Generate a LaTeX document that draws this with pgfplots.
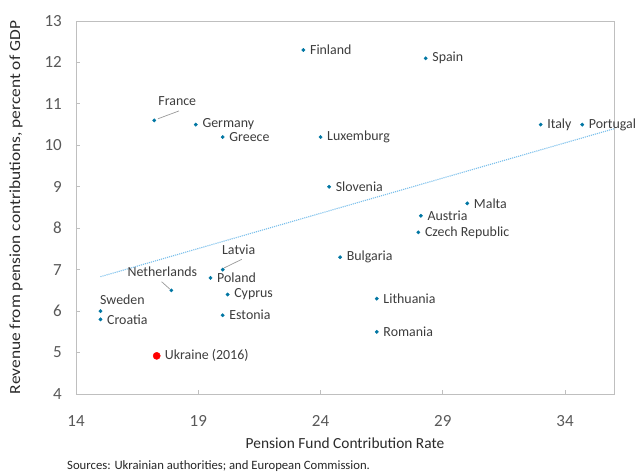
\documentclass[border=0pt]{standalone}
\usepackage{pgfplots}
\pgfplotsset{compat=1.18}
\usepackage{fontspec}
\setmainfont{Carlito}
\definecolor{dotblue}{RGB}{0,118,163}
\definecolor{lblgray}{RGB}{60,60,60}
\definecolor{tickgray}{RGB}{89,89,89}
\definecolor{framegray}{RGB}{191,191,191}
\definecolor{trendblue}{RGB}{120,190,235}
\begin{document}
\begin{tikzpicture}
\path[use as bounding box] (-76pt,-79pt) rectangle (561pt,394pt);
\begin{axis}[
  scale only axis,
  width=538pt, height=373pt,
  xmin=14, xmax=36, ymin=4, ymax=13,
  xtick={14,19,24,29,34}, ytick={4,5,...,13},
  /pgf/number format/assume math mode=true,
  axis line style={framegray, line width=0.9pt},
  tick style={framegray, line width=0.9pt},
  tick align=inside, major tick length=4pt,
  xtick pos=bottom, ytick pos=left,
  ticklabel style={font=\fontsize{17}{19}\selectfont, text=tickgray},
  xticklabel style={anchor=center, yshift=-27pt, inner sep=0pt},
  yticklabel style={anchor=east, xshift=-14pt, inner sep=0pt},
  xlabel={Pension Fund Contribution Rate},
  ylabel={\scalebox{1.13}[1]{Revenue from pension contributions, percent of GDP}},
  xlabel style={at={(axis description cs:0.5,-0.1314)}, anchor=center, font=\fontsize{15.4}{17}\selectfont, text=lblgray!70!black},
  ylabel style={at={(axis description cs:-0.1115,0.5)}, anchor=center, font=\fontsize{15.4}{17}\selectfont, text=lblgray!70!black},
  clip=false,
  nodes near coords={\pgfplotspointmeta},
  point meta=explicit symbolic,
  every node near coord/.append style={font=\fontsize{13.9}{15}\selectfont, text=lblgray, inner sep=0pt},
]
% trend line
\addplot[trendblue, densely dotted, line width=1.1pt, no markers, nodes near coords={}] coordinates {(15,6.83) (36,10.4)};
% ordinary points, label to the right
\addplot[only marks, mark=*, mark size=1.7pt, color=dotblue,
  every node near coord/.append style={anchor=west, xshift=6.5pt}]
coordinates {
(23.3,12.3) [Finland]
(28.3,12.1) [Spain]
(18.9,10.5) [Germany]
(20.0,10.2) [Greece]
(24.0,10.2) [Luxemburg]
(33.0,10.5) [Italy]
(34.7,10.5) [Portugal]
(24.35,9.0) [Slovenia]
(30.0,8.6) [Malta]
(28.1,8.3) [Austria]
(28.0,7.9) [Czech Republic]
(24.8,7.3) [Bulgaria]
(19.5,6.8) [Poland]
(20.2,6.4) [Cyprus]
(26.3,6.3) [Lithuania]
(15.0,5.8) [Croatia]
(20.0,5.9) [Estonia]
(26.3,5.5) [Romania]
};
% special labels
\addplot[only marks, mark=*, mark size=1.7pt, color=dotblue,
  every node near coord/.append style={anchor=center, xshift=23pt, yshift=19pt}]
coordinates {(17.2,10.6) [France]};
\addplot[only marks, mark=*, mark size=1.7pt, color=dotblue,
  every node near coord/.append style={anchor=center, xshift=-9pt, yshift=19pt}]
coordinates {(17.9,6.5) [Netherlands]};
\addplot[only marks, mark=*, mark size=1.7pt, color=dotblue,
  every node near coord/.append style={anchor=center, xshift=16pt, yshift=20pt}]
coordinates {(20.0,7.0) [Latvia]};
\addplot[only marks, mark=*, mark size=1.7pt, color=dotblue,
  every node near coord/.append style={anchor=center, xshift=22pt, yshift=11pt}]
coordinates {(15.0,6.0) [Sweden]};
% Ukraine
\addplot[only marks, mark=*, mark size=3.6pt, color=red,
  every node near coord/.append style={anchor=west, xshift=8pt}]
coordinates {(17.3,4.92) [Ukraine (2016)]};
% leader lines
\draw[gray!80, line width=0.7pt] (axis cs:17.35,10.64) -- (axis cs:18.21,10.83);
\draw[gray!80, line width=0.7pt] (axis cs:17.5,6.71) -- (axis cs:17.84,6.53);
\draw[gray!80, line width=0.7pt] (axis cs:20.05,7.04) -- (axis cs:20.78,7.25);
\end{axis}
\node[anchor=west, inner sep=0pt, font=\fontsize{12.7}{14}\selectfont, text=black!85] at (-9pt,-72pt) {Sources: Ukrainian authorities; and European Commission.};
\end{tikzpicture}
\end{document}
